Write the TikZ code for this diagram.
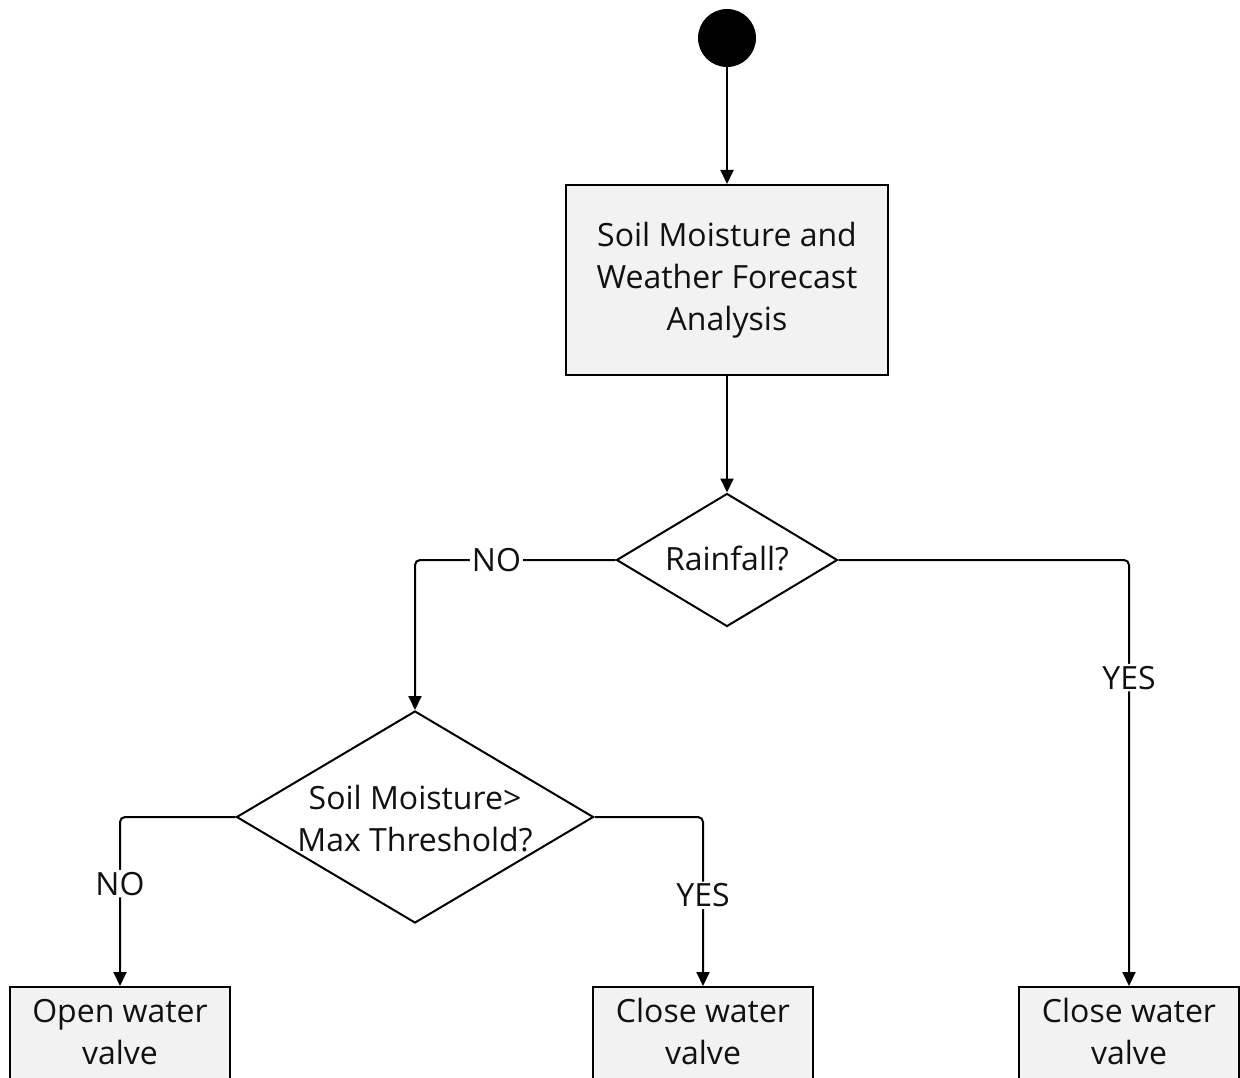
\documentclass[tikz,border=0pt]{standalone}
\usepackage{fontspec}
\setmainfont{Open Sans}
\usetikzlibrary{shapes.geometric,arrows.meta}
\definecolor{boxfill}{HTML}{F2F2F2}
\definecolor{ink}{HTML}{111111}
\begin{document}
\begin{tikzpicture}[x=1pt,y=-1pt,
  every node/.style={font=\fontsize{32}{42}\selectfont, text=ink},
  procbox/.style={draw=black, line width=2pt, fill=boxfill, rectangle, align=center, inner sep=0pt},
  decision/.style={draw=black, line width=2pt, diamond, inner sep=0pt},
  flow/.style={draw=black, line width=2pt, rounded corners=5pt, -{Triangle[width=13pt,length=14pt]}},
  lbl/.style={fill=white, inner sep=2pt}
]
\useasboundingbox (0,0) rectangle (1240,1078);
\clip (0,0) rectangle (1240,1078);
\node[circle, fill=black, minimum size=58pt, inner sep=0pt] (start) at (727,38) {};
\node[procbox, minimum width=322pt, minimum height=190pt] (analysis) at (727,280) {Soil Moisture and\\Weather Forecast\\Analysis};
\node[decision, minimum width=221pt, minimum height=133pt] (rain) at (727,560) {\makebox[0pt]{\raisebox{4pt}{Rainfall?}}};
\node[decision, minimum width=357pt, minimum height=212pt] (soil) at (415,817) {\makebox[0pt]{\raisebox{-11pt}[0pt][0pt]{\begin{tabular}{@{}c@{}}Soil Moisture>\\Max Threshold?\end{tabular}}}};
\node[procbox, minimum width=220pt, minimum height=96pt] (open) at (120,1035) {\raisebox{3pt}{\begin{tabular}{@{}c@{}}Open water\\valve\end{tabular}}};
\node[procbox, minimum width=220pt, minimum height=96pt] (close1) at (703,1035) {\raisebox{3pt}{\begin{tabular}{@{}c@{}}Close water\\valve\end{tabular}}};
\node[procbox, minimum width=220pt, minimum height=96pt] (close2) at (1129,1035) {\raisebox{3pt}{\begin{tabular}{@{}c@{}}Close water\\valve\end{tabular}}};

\draw[flow] (start) -- (analysis);
\draw[flow] (analysis) -- (rain);
\draw[flow] (rain.west) -| node[lbl, pos=0.297] {NO} (soil.north);
\draw[flow] (rain.east) -| node[lbl, pos=0.638] {YES} (close2.north);
\draw[flow] (soil.west) -| node[lbl, pos=0.697] {NO} (open.north);
\draw[flow] (soil.east) -| node[lbl, pos=0.732] {YES} (close1.north);
\end{tikzpicture}
\end{document}
